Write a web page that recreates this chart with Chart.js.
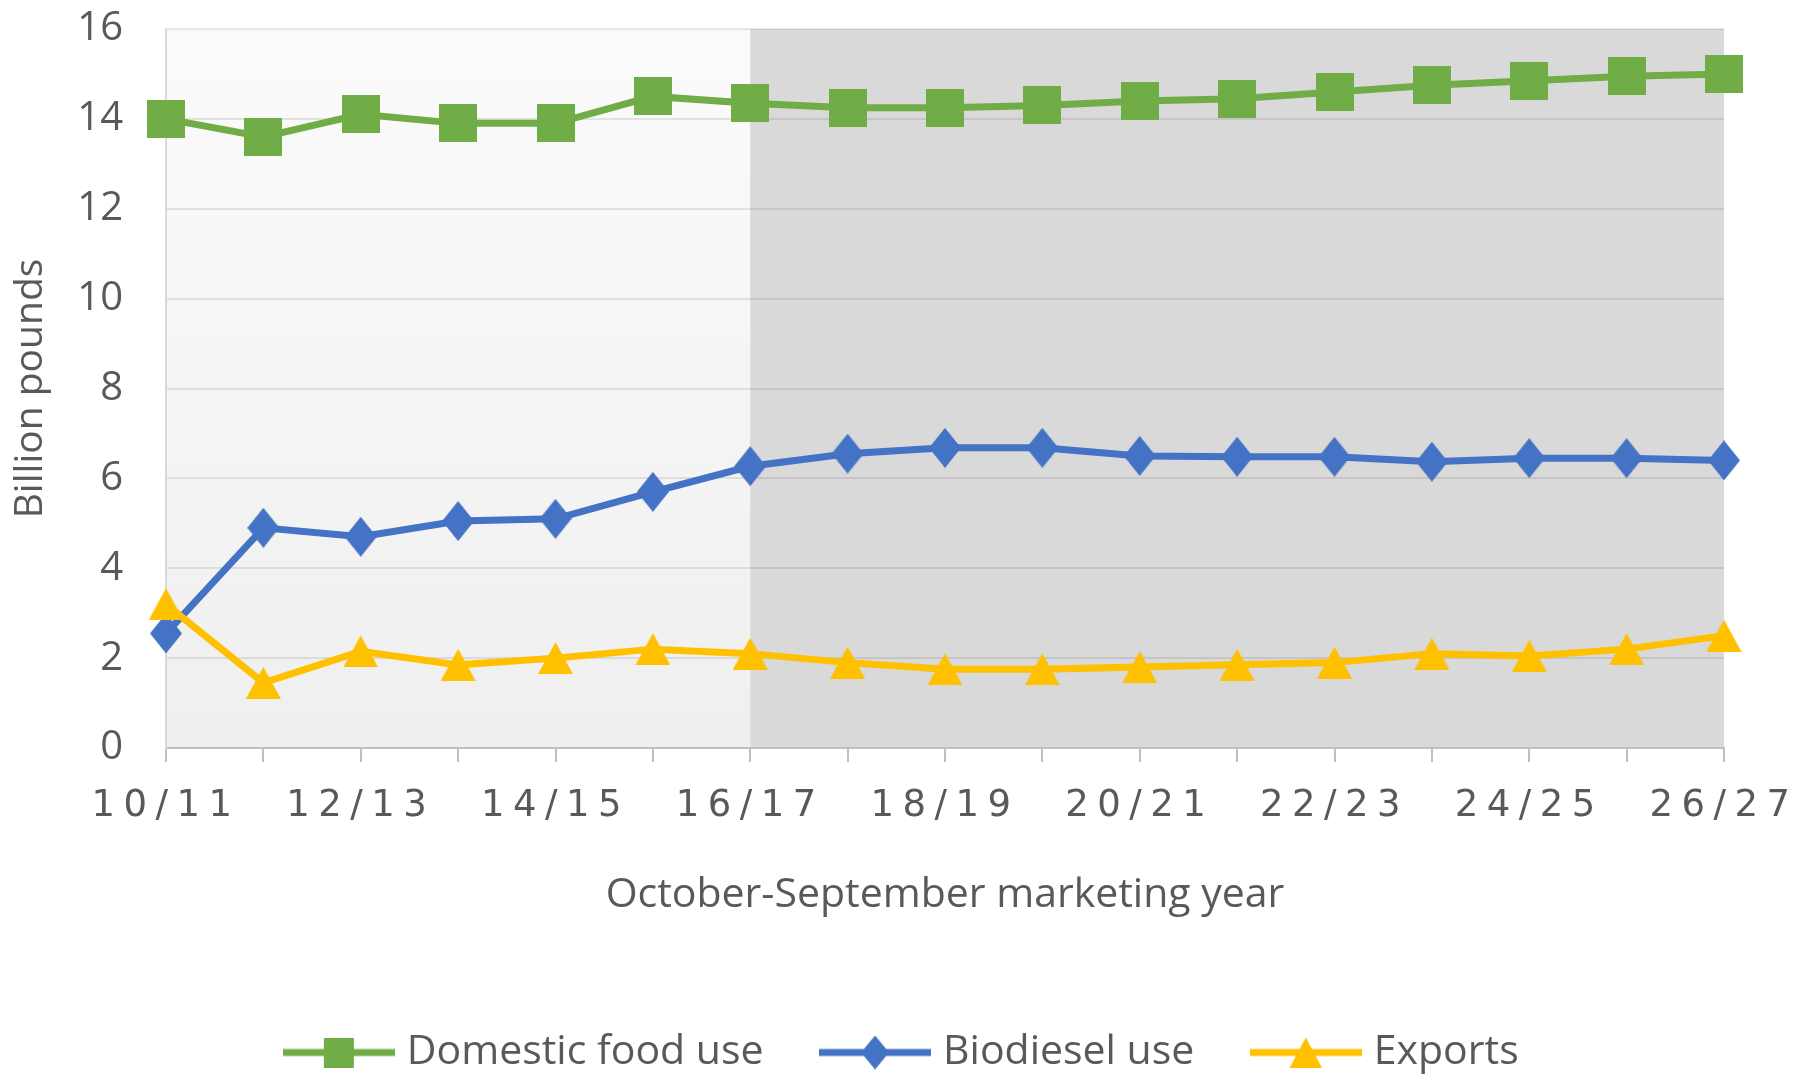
<!DOCTYPE html>
<html>
<head>
<meta charset="utf-8">
<title>Soybean oil use</title>
<script src="https://cdn.jsdelivr.net/npm/chart.js@4.4.1/dist/chart.umd.min.js"></script>
<style>
  html, body { margin: 0; padding: 0; background: #ffffff; }
  canvas { display: block; }
</style>
</head>
<body>
<canvas id="myChart" width="1818" height="1077"></canvas>
<script>

// October-September marketing years
var years = ["10/11", "11/12", "12/13", "13/14", "14/15", "15/16", "16/17", "17/18", "18/19",
             "19/20", "20/21", "21/22", "22/23", "23/24", "24/25", "25/26", "26/27"];

// Billion pounds
var domesticFood = [14.0, 13.6, 14.1, 13.9, 13.9, 14.5, 14.35, 14.25, 14.25, 14.3, 14.4, 14.45, 14.6, 14.75, 14.85, 14.95, 15.0];
var biodiesel    = [2.55, 4.9, 4.7, 5.05, 5.1, 5.7, 6.27, 6.55, 6.68, 6.68, 6.5, 6.48, 6.48, 6.37, 6.45, 6.45, 6.4];
var exportsUse   = [3.2, 1.45, 2.15, 1.85, 2.0, 2.2, 2.1, 1.9, 1.75, 1.75, 1.8, 1.85, 1.9, 2.1, 2.05, 2.2, 2.5];

var seriesNames = ["Domestic food use", "Biodiesel use", "Exports"];
var yMin = 0, yMax = 16, yStep = 2;
var projectionStart = "16/17";   // shaded part starts here

var green = "#70AD47";
var blue = "#4472C4";
var gold = "#FFC000";
var textGray = "#595959";


// marker pictures (shape only, the chart places them)
const makeMarker = (shape, color, w, h, lineW) => {
    var c = document.createElement("canvas");
    var full = lineW || w;
    c.width = full;
    c.height = h;
    var ctx = c.getContext("2d");
    var cx = full / 2;
    ctx.fillStyle = color;
    if (lineW) {
        ctx.fillRect(0, h / 2 - 3.5, full, 7);
    }
    ctx.beginPath();
    if (shape == "square") {
        ctx.rect(cx - w / 2, 0, w, h);
    }
    else if (shape == "diamond") {
        ctx.moveTo(cx, 0);
        ctx.lineTo(cx + w / 2, h / 2);
        ctx.lineTo(cx, h);
        ctx.lineTo(cx - w / 2, h / 2);
    }
    else {
        ctx.moveTo(cx, 0);
        ctx.lineTo(cx + w / 2, h);
        ctx.lineTo(cx - w / 2, h);
    }
    ctx.closePath();
    ctx.fill();
    return c;
}

var pointMarks = [makeMarker("square", green, 38, 38),
                  makeMarker("diamond", blue, 32, 40),
                  makeMarker("triangle", gold, 35, 32)];

var legendMarks = [makeMarker("square", green, 30, 30, 112),
                   makeMarker("diamond", blue, 28, 34, 112),
                   makeMarker("triangle", gold, 32, 30, 112)];


// shaded plot background + letter spacing for the year labels
const backPlugin = {
    id: "backShade",
    beforeDraw: (chart) => {
        const ctx = chart.ctx;
        const area = chart.chartArea;
        const splitX = chart.scales.x.getPixelForValue(years.indexOf(projectionStart));
        ctx.save();
        var grad = ctx.createLinearGradient(0, area.top, 0, area.bottom);
        grad.addColorStop(0, "#fbfbfb");
        grad.addColorStop(1, "#efefef");
        ctx.fillStyle = grad;
        ctx.fillRect(area.left, area.top, splitX - area.left, area.bottom - area.top);
        ctx.fillStyle = "#d9d9d9";
        ctx.fillRect(splitX, area.top, area.right - splitX, area.bottom - area.top);
        ctx.restore();
    },
    afterDatasetsDraw: (chart) => {
        chart.ctx.letterSpacing = "8.5px";
    },
    afterDraw: (chart) => {
        chart.ctx.letterSpacing = "0px";
    }
};


const makeSet = (i, values, color, order) => {
    return {
        label: seriesNames[i],
        data: values,
        borderColor: color,
        backgroundColor: color,
        borderWidth: 7,
        pointStyle: pointMarks[i],
        pointRadius: 20,
        pointHoverRadius: 20,
        pointBorderWidth: 0,
        tension: 0,
        fill: false,
        clip: false,
        order: order
    };
}

new Chart("myChart", {
    type: "line",
    data: {
        labels: years,
        datasets: [
            makeSet(0, domesticFood, green, 2),
            makeSet(1, biodiesel, blue, 1),
            makeSet(2, exportsUse, gold, 0)
        ]
    },
    options: {
        responsive: false,
        animation: false,
        devicePixelRatio: 1,
        layout: {
            padding: {top: 29, right: 8, bottom: -6, left: 0}
        },
        scales: {
            x: {
                offset: false,
                afterFit: (scale) => { scale.height = 220; },
                grid: {
                    drawOnChartArea: false,
                    drawTicks: true,
                    tickLength: 14,
                    color: "#bfbfbf",
                    lineWidth: 2
                },
                border: {display: true, color: "#bfbfbf", width: 2},
                ticks: {
                    z: 1,
                    autoSkip: false,
                    maxRotation: 0,
                    padding: 22,
                    color: textGray,
                    font: {family: "DejaVu Sans", size: 37},
                    callback: (val, i) => (i % 2 == 0 ? years[i] : "")
                },
                title: {
                    display: true,
                    text: "October-September marketing year",
                    color: textGray,
                    font: {family: "Open Sans", size: 41},
                    padding: {top: 0, bottom: 48}
                }
            },
            y: {
                min: yMin,
                max: yMax,
                afterFit: (scale) => { scale.width = 166; },
                grid: {
                    drawTicks: true,
                    tickLength: 43,
                    tickColor: "rgba(0,0,0,0)",
                    color: "rgba(0,0,0,0.09)",
                    lineWidth: 2
                },
                border: {display: true, color: "#d9d9d9", width: 2},
                ticks: {
                    stepSize: yStep,
                    padding: 0,
                    color: textGray,
                    font: {family: "Open Sans", size: 40}
                },
                title: {
                    display: true,
                    text: "Billion pounds",
                    color: textGray,
                    font: {family: "Open Sans", size: 39},
                    padding: {top: 7, bottom: 0}
                }
            },
            // empty right-hand margin so the plot ends where the reference does
            yRight: {
                position: "right",
                display: true,
                afterFit: (scale) => { scale.width = 86; },
                grid: {display: false},
                border: {display: false},
                ticks: {display: false},
                title: {display: false}
            }
        },
        plugins: {
            legend: {
                position: "bottom",
                labels: {
                    usePointStyle: true,
                    pointStyleWidth: 95,
                    padding: 64,
                    color: textGray,
                    font: {family: "Open Sans", size: 41},
                    sort: (a, b) => a.datasetIndex - b.datasetIndex,
                    generateLabels: (chart) => {
                        var items = Chart.defaults.plugins.legend.labels.generateLabels(chart);
                        items.forEach((item) => { item.pointStyle = legendMarks[item.datasetIndex]; });
                        return items;
                    }
                }
            },
            tooltip: {enabled: false}
        }
    },
    plugins: [backPlugin]
});

</script>
</body>
</html>
